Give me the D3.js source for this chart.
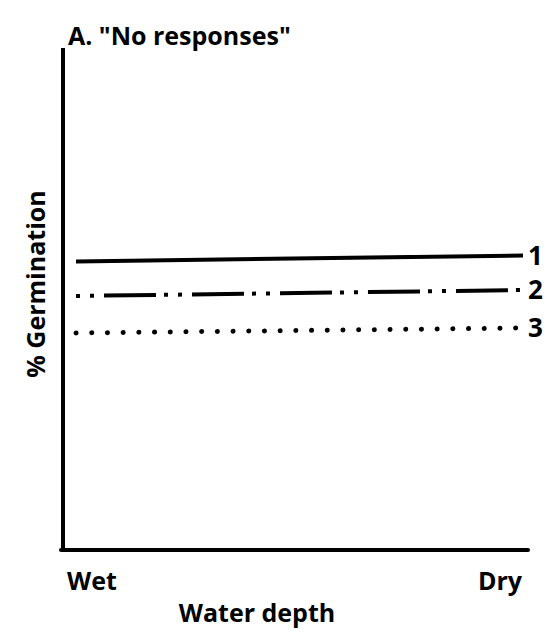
<!DOCTYPE html>
<html>
<head>
<meta charset="utf-8">
<script src="https://cdn.jsdelivr.net/npm/d3@7"></script>
<style>
    body { margin: 0; background: #fff; }
    text { font-family: 'Open Sans', 'DejaVu Sans', sans-serif; font-weight: 700; fill: #000; }
</style>
</head>
<body>
<svg></svg>
<script>
let width = 548
let height = 633
let svg = d3.select('svg')
    .attr('width', width)
    .attr('height', height)

// values (arbitrary % germination, 0-100)
let depthLabels = ['Wet', 'Dry']
let seriesNames = ['1', '2', '3']
let series1 = [57.7, 58.9]
let series2 = [50.8, 52.0]
let series3 = [43.4, 44.4]
let dashes = [null, '4 10 4 10 52 8', '0.1 15.6']

let margin = { left: 63, right: 20, top: 48, bottom: 83 }
let xScale = d3.scalePoint()
    .domain(depthLabels)
    .range([76, 523])
let yScale = d3.scaleLinear()
    .domain([0, 100])
    .range([height - margin.bottom, margin.top + 2])

let axisGroup = svg.append('g').attr('class', 'axes')
axisGroup.append('line')
    .attr('x1', margin.left).attr('x2', margin.left)
    .attr('y1', margin.top).attr('y2', yScale(0) + 2)
    .attr('stroke', '#000').attr('stroke-width', 4)
axisGroup.append('line')
    .attr('x1', margin.left - 2).attr('x2', 528)
    .attr('y1', yScale(0)).attr('y2', yScale(0))
    .attr('stroke', '#000').attr('stroke-width', 4)
    .attr('stroke-linecap', 'round')

let data = [series1, series2, series3].map((vals, i) => ({
    name: seriesNames[i],
    dash: dashes[i],
    points: vals.map((v, j) => ({ depth: depthLabels[j], value: v }))
}))

let line = d3.line()
    .x(d => xScale(d.depth))
    .y(d => yScale(d.value))

let lineGroup = svg.append('g').attr('class', 'lines')
lineGroup.selectAll('path')
    .data(data).enter()
    .append('path')
    .attr('d', d => line(d.points))
    .attr('fill', 'none')
    .attr('stroke', '#000')
    .attr('stroke-width', d => d.name === '3' ? 5 : 4)
    .attr('stroke-linecap', d => d.name === '3' ? 'round' : 'butt')
    .attr('stroke-dasharray', d => d.dash)

lineGroup.selectAll('text')
    .data(data).enter()
    .append('text')
    .attr('x', d => xScale('Dry') + 5)
    .attr('y', d => yScale(d.points[1].value) + 9)
    .style('font-size', '26px')
    .text(d => d.name)

svg.append('text')
    .attr('x', 68)
    .attr('y', 45)
    .style('font-size', '25px')
    .text('A. "No responses"')

svg.selectAll('.tick-label')
    .data(depthLabels).enter()
    .append('text')
    .attr('class', 'tick-label')
    .attr('x', d => d === 'Wet' ? 67 : 522)
    .attr('y', 590)
    .attr('text-anchor', d => d === 'Wet' ? 'start' : 'end')
    .style('font-size', '25px')
    .text(d => d)

svg.append('text')
    .attr('x', 257)
    .attr('y', 622)
    .attr('text-anchor', 'middle')
    .style('font-size', '25px')
    .text('Water depth')

svg.append('text')
    .attr('transform', 'translate(45,284) rotate(-90)')
    .attr('text-anchor', 'middle')
    .style('font-size', '25px')
    .text('% Germination')
</script>
</body>
</html>
